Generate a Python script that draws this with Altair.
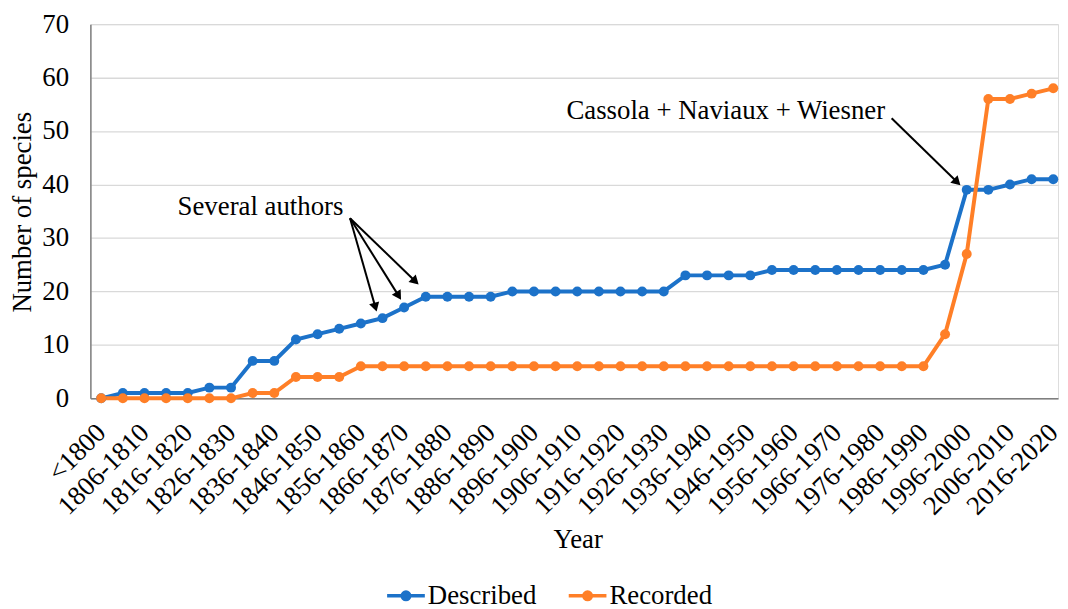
import json
import math
import altair as alt
import pandas as pd

# ---------------- data ----------------
categories = [
    "<1800", "1801-1805", "1806-1810", "1811-1815", "1816-1820", "1821-1825",
    "1826-1830", "1831-1835", "1836-1840", "1841-1845", "1846-1850", "1851-1855",
    "1856-1860", "1861-1865", "1866-1870", "1871-1875", "1876-1880", "1881-1885",
    "1886-1890", "1891-1895", "1896-1900", "1901-1905", "1906-1910", "1911-1915",
    "1916-1920", "1921-1925", "1926-1930", "1931-1935", "1936-1940", "1941-1945",
    "1946-1950", "1951-1955", "1956-1960", "1961-1965", "1966-1970", "1971-1975",
    "1976-1980", "1981-1985", "1986-1990", "1991-1995", "1996-2000", "2001-2005",
    "2006-2010", "2011-2015", "2016-2020",
]
described = [0, 1, 1, 1, 1, 2, 2, 7, 7, 11, 12, 13, 14, 15, 17, 19, 19, 19, 19,
             20, 20, 20, 20, 20, 20, 20, 20, 23, 23, 23, 23, 24, 24, 24, 24, 24,
             24, 24, 24, 25, 39, 39, 40, 41, 41]
recorded = [0, 0, 0, 0, 0, 0, 0, 1, 1, 4, 4, 4, 6, 6, 6, 6, 6, 6, 6, 6, 6, 6,
            6, 6, 6, 6, 6, 6, 6, 6, 6, 6, 6, 6, 6, 6, 6, 6, 6, 12, 27, 56, 56,
            57, 58]
series_names = ["Described", "Recorded"]
series_colors = ["#1C72C9", "#FF7F27"]

# annotation texts (positions in data units: category index, species count)
note_texts = ["Several authors", "Cassola + Naviaux + Wiesner"]
note_x = [3.53, 21.5]
note_y = [35.7, 53.8]
# arrows: start (x, y) -> tip (x, y), in data units
arrow_x0 = [11.5, 11.5, 11.5, 36.53]
arrow_y0 = [33.7, 33.7, 33.7, 52.4]
arrow_x1 = [12.71, 13.82, 14.62, 39.66]
arrow_y1 = [16.5, 18.7, 21.5, 40.05]

# ---------------- layout ----------------
W, H = 975, 377
X_MIN, X_MAX = -0.5, 44.22
Y_MIN, Y_MAX = 0, 70
FONT = "Liberation Serif"
FS = 27
px_x = W / (X_MAX - X_MIN)
px_y = H / (Y_MAX - Y_MIN)

rows = []
for name, vals in zip(series_names, [described, recorded]):
    for i, v in enumerate(vals):
        rows.append({"idx": i, "period": categories[i], "value": v, "series": name})
df = pd.DataFrame(rows)

notes = pd.DataFrame({"x": note_x, "y": note_y, "text": note_texts})

# arrow shafts and heads (head geometry derived from the pixel direction)
HEAD = 110
head_h = math.sqrt(3) / 2 * math.sqrt(HEAD) / 2  # half-height of triangle in px
shaft, heads = [], []
for x0, y0, x1, y1 in zip(arrow_x0, arrow_y0, arrow_x1, arrow_y1):
    dxp = (x1 - x0) * px_x
    dyp = -(y1 - y0) * px_y
    L = math.hypot(dxp, dyp)
    ux, uy = dxp / L, dyp / L
    ang = math.degrees(math.atan2(ux, -uy)) % 360
    cx = x1 - head_h * ux / px_x
    cy = y1 + head_h * uy / px_y
    ex = x1 - 1.5 * head_h * ux / px_x
    ey = y1 + 1.5 * head_h * uy / px_y
    shaft.append({"x": x0, "y": y0, "x2": ex, "y2": ey})
    heads.append({"x": cx, "y": cy, "angle": ang})
shaft = pd.DataFrame(shaft)
heads = pd.DataFrame(heads)

label_expr = json.dumps(categories) + "[datum.value]"

x_scale = alt.Scale(domain=[X_MIN, X_MAX], nice=False, zero=False)
y_scale = alt.Scale(domain=[Y_MIN, Y_MAX], nice=False)

x_axis = alt.Axis(
    values=list(range(0, len(categories), 2)),
    labelExpr=label_expr,
    labelAngle=-45,
    labelAlign="right",
    labelBaseline="middle",
    labelPadding=30,
    labelFontSize=FS,
    labelFont=FONT,
    labelColor="#000000",
    labelOverlap=False,
    labelBound=False,
    ticks=False,
    grid=False,
    domainColor="#7F7F7F",
    domainWidth=1.5,
    title="Year",
    titleFont=FONT,
    titleFontSize=FS,
    titleFontWeight="normal",
    titleColor="#000000",
    titleX=491,
    titleY=142,
    titleAlign="center",
    titleBaseline="middle",
    titleAngle=0,
)
y_axis = alt.Axis(
    values=list(range(0, 71, 10)),
    labelFontSize=FS,
    labelFont=FONT,
    labelColor="#000000",
    labelPadding=22,
    ticks=False,
    grid=True,
    gridColor="#D9D9D9",
    gridWidth=1.3,
    domainColor="#7F7F7F",
    domainWidth=1.5,
    title="Number of species",
    titleFont=FONT,
    titleFontSize=FS,
    titleFontWeight="normal",
    titleColor="#000000",
    titleX=-68,
    titleY=189,
    titleAngle=-90,
    titleAlign="center",
    titleBaseline="middle",
)

color = alt.Color(
    "series:N",
    scale=alt.Scale(domain=series_names, range=series_colors),
    legend=alt.Legend(
        title=None,
        orient="none",
        direction="horizontal",
        legendX=297,
        legendY=555,
        labelFont=FONT,
        labelFontSize=FS,
        labelColor="#000000",
        labelOffset=1,
        columnPadding=25,
        symbolType="M-1,0L1,0M0.2,0A0.2,0.2,0,1,1,-0.2,0A0.2,0.2,0,1,1,0.2,0Z",
        symbolSize=1444,
        symbolStrokeWidth=3.5,
    ),
)

base = alt.Chart(df).encode(
    x=alt.X("idx:Q", scale=x_scale, axis=x_axis),
    y=alt.Y("value:Q", scale=y_scale, axis=y_axis),
    color=color,
    detail="series:N",
)
lines = base.mark_line(strokeWidth=4)
points = base.mark_point(filled=True, size=100, opacity=1)

arrow_lines = alt.Chart(shaft).mark_rule(color="#000000", strokeWidth=2).encode(
    x=alt.X("x:Q", scale=x_scale), y=alt.Y("y:Q", scale=y_scale),
    x2="x2:Q", y2="y2:Q",
)
arrow_heads = alt.Chart(heads).mark_point(
    shape="triangle", filled=True, color="#000000", size=HEAD, opacity=1
).encode(
    x=alt.X("x:Q", scale=x_scale), y=alt.Y("y:Q", scale=y_scale),
    angle=alt.Angle("angle:Q", scale=None),
)
note_text = alt.Chart(notes).mark_text(
    align="left", baseline="middle", font=FONT, fontSize=FS, color="#000000"
).encode(
    x=alt.X("x:Q", scale=x_scale), y=alt.Y("y:Q", scale=y_scale), text="text:N",
)

chart = (
    alt.layer(lines, points, arrow_lines, arrow_heads, note_text)
    .properties(
        width=W,
        height=H,
        autosize=alt.AutoSizeParams(type="none"),
        padding={"left": 83, "top": 14, "right": 2, "bottom": 210},
    )
    .configure_view(stroke=None)
    .configure(background="#FFFFFF")
)

chart.save("out.html", embed_options={"renderer": "svg", "actions": False})
